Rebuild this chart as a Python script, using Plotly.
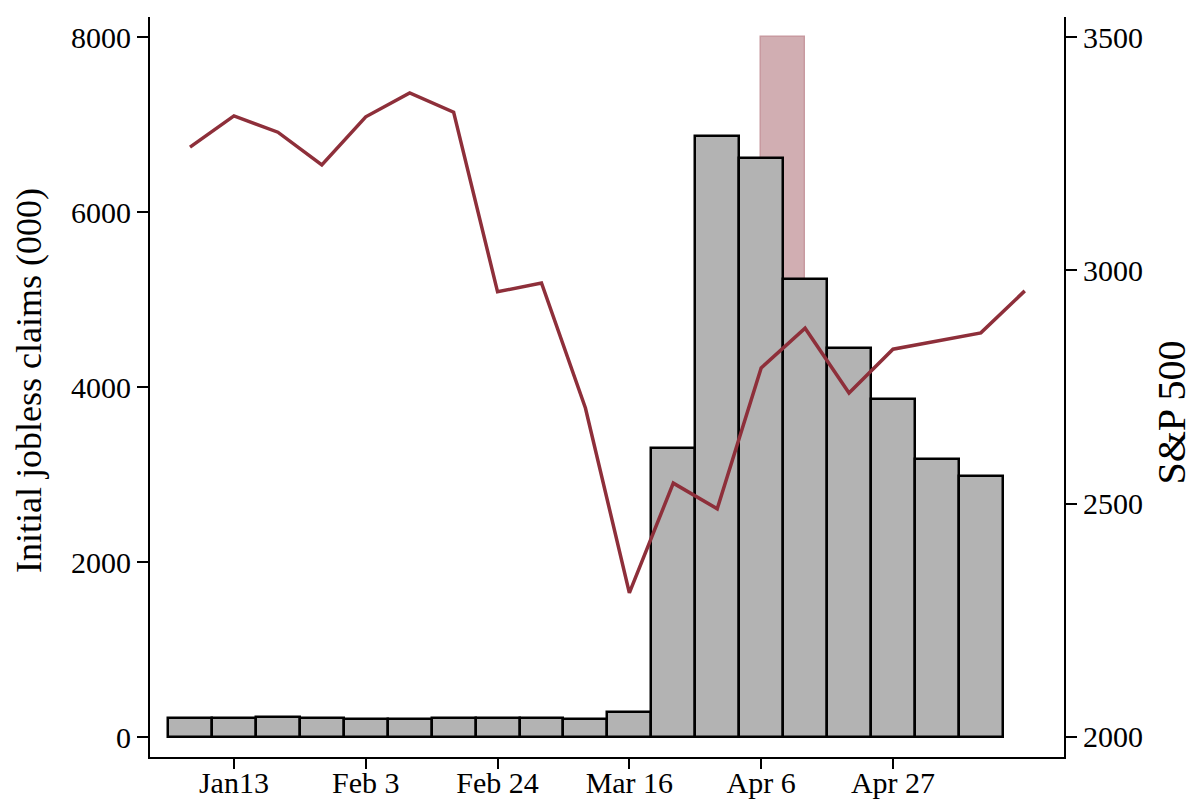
import plotly.graph_objects as go
import pandas as pd

# Weekly initial jobless claims (thousands), weeks centred on these dates
claim_weeks = pd.date_range("2020-01-06", "2020-05-11", freq="7D")
claims = [217, 214, 228, 217, 206, 205, 217, 217, 216, 211, 282,
          3307, 6867, 6615, 5237, 4442, 3867, 3176, 2981]

# S&P 500 index level
sp_dates = pd.to_datetime([
    "2020-01-06", "2020-01-13", "2020-01-20", "2020-01-27", "2020-02-03",
    "2020-02-10", "2020-02-17", "2020-02-24", "2020-03-02", "2020-03-09",
    "2020-03-16", "2020-03-23", "2020-03-30", "2020-04-06", "2020-04-13",
    "2020-04-20", "2020-04-27", "2020-05-11", "2020-05-18",
])
sp500 = [3264, 3331, 3296, 3226, 3329, 3380, 3339, 2954, 2973, 2705,
         2309, 2544, 2489, 2791, 2876, 2737, 2831, 2866, 2956]

# Highlighted week
highlight_start = pd.Timestamp("2020-04-06")
highlight_top = 8000

tick_dates = pd.to_datetime(["2020-01-13", "2020-02-03", "2020-02-24",
                             "2020-03-16", "2020-04-06", "2020-04-27"])
tick_text = ["Jan13", "Feb 3", "Feb 24", "Mar 16", "Apr 6", "Apr 27"]

left_ticks = [0, 2000, 4000, 6000, 8000]
right_ticks = [2000, 2500, 3000, 3500]

left_title = "Initial jobless claims (000)"
right_title = "S&amp;P 500"

WEEK_MS = 7 * 24 * 3600 * 1000
FONT = "Liberation Serif"
LINE_RED = "#8e2f3a"

fig = go.Figure()

fig.add_trace(go.Bar(
    x=[highlight_start], y=[highlight_top], width=[WEEK_MS], offset=0,
    marker=dict(color="#d1aeb2", line=dict(color="#c89aa0", width=1.5)),
    showlegend=False, hoverinfo="skip",
))

fig.add_trace(go.Bar(
    x=claim_weeks, y=claims, width=[WEEK_MS] * len(claims),
    marker=dict(color="#b3b3b3", line=dict(color="black", width=2.5)),
    showlegend=False,
))

fig.add_trace(go.Scatter(
    x=sp_dates, y=sp500, yaxis="y2", mode="lines",
    line=dict(color=LINE_RED, width=3.5),
    showlegend=False,
))

axis_common = dict(
    showgrid=False, zeroline=False, showline=True, linecolor="black",
    linewidth=2, ticks="outside", tickcolor="black", tickwidth=2,
    automargin=False,
    tickfont=dict(family=FONT, size=30, color="black"),
)

fig.update_layout(
    width=1195, height=800,
    margin=dict(l=150, r=131, t=17, b=43),
    paper_bgcolor="white", plot_bgcolor="white",
    barmode="overlay", bargap=0,
    font=dict(family=FONT, size=30, color="black"),
    xaxis=dict(
        **axis_common, type="date",
        range=["2019-12-30 15:00", "2020-05-24 06:00"],
        tickvals=tick_dates, ticktext=tick_text, ticklen=10,
        ticklabelstandoff=-12,
    ),
    yaxis=dict(
        **axis_common, range=[-228.6, 8228.6], tickvals=left_ticks,
        ticklen=11,
    ),
    yaxis2=dict(
        **axis_common, overlaying="y", side="right",
        range=[1957.1, 3542.9], tickvals=right_ticks, ticklen=11,
    ),
    annotations=[
        dict(text=left_title, textangle=-90, showarrow=False,
             xref="paper", yref="paper", x=-0.1324, y=0.5095,
             xanchor="center", yanchor="middle",
             font=dict(family=FONT, size=36, color="black")),
        dict(text=right_title, textangle=-90, showarrow=False,
             xref="paper", yref="paper", x=1.1176, y=0.4662,
             xanchor="center", yanchor="middle",
             font=dict(family=FONT, size=40, color="black")),
    ],
)

fig.write_html("out.html")
